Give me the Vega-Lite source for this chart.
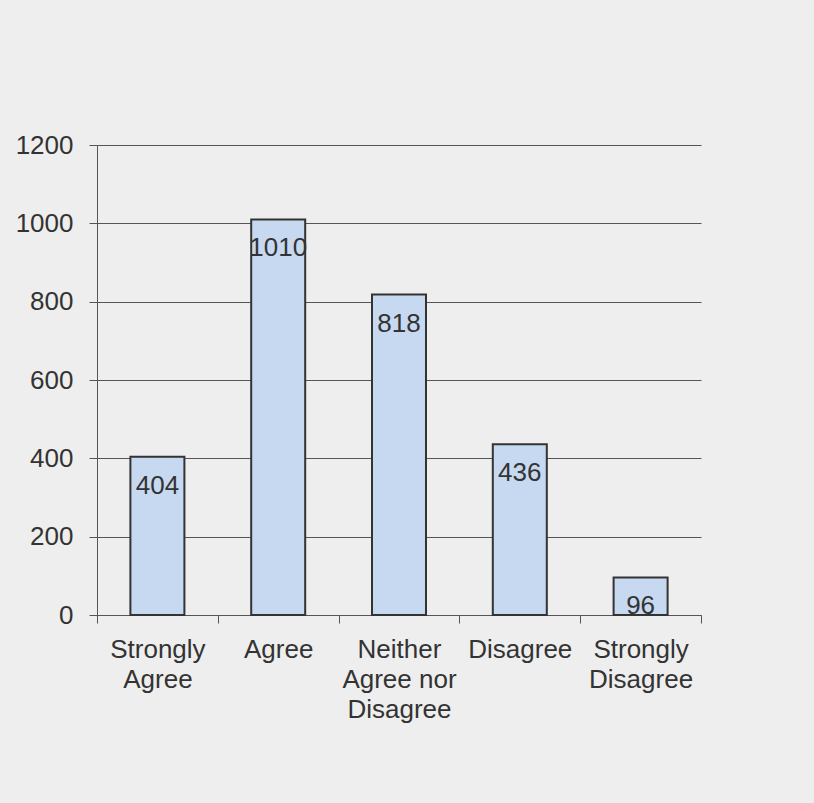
{
  "$schema": "https://vega.github.io/schema/vega-lite/v6.json",
  "autosize": "none",
  "padding": {"left": 97, "top": 145, "right": 113, "bottom": 188},
  "width": 604,
  "height": 470,
  "background": "#eeeeee",
  "config": {
    "view": {"stroke": null},
    "font": "Liberation Sans",
    "axis": {
      "labelFont": "Liberation Sans",
      "labelFontSize": 26,
      "labelColor": "#333333",
      "domainColor": "#555555",
      "tickColor": "#555555",
      "gridColor": "#555555",
      "tickSize": 8,
      "title": null
    }
  },
  "data": {
    "values": [
      {"category": "Strongly Agree", "count": 404},
      {"category": "Agree", "count": 1010},
      {"category": "Neither Agree nor Disagree", "count": 818},
      {"category": "Disagree", "count": 436},
      {"category": "Strongly Disagree", "count": 96}
    ]
  },
  "encoding": {
    "x": {
      "field": "category",
      "type": "nominal",
      "sort": null,
      "scale": {"paddingInner": 0, "paddingOuter": 0},
      "axis": {
        "labelAngle": 0,
        "tickBand": "extent",
        "labelPadding": 13,
        "labelLineHeight": 30,
        "labelBaseline": "top",
        "labelExpr": "!isValid(datum.value) ? '' : datum.value == 'Neither Agree nor Disagree' ? ['Neither', 'Agree nor', 'Disagree'] : split(datum.value, ' ')"
      }
    },
    "y": {
      "field": "count",
      "type": "quantitative",
      "scale": {"domain": [0, 1200], "nice": false},
      "axis": {"values": [0, 200, 400, 600, 800, 1000, 1200], "format": "d", "labelPadding": 16, "grid": true, "gridOpacity": 1}
    }
  },
  "layer": [
    {"mark": {"type": "bar", "width": {"band": 0.447}, "fill": "#c6d9f1", "stroke": "#333333", "strokeWidth": 2}},
    {
      "mark": {"type": "text", "baseline": "alphabetic", "align": "center", "dy": 37, "fontSize": 26, "color": "#333333"},
      "encoding": {"text": {"field": "count", "type": "quantitative"}}
    }
  ]
}
